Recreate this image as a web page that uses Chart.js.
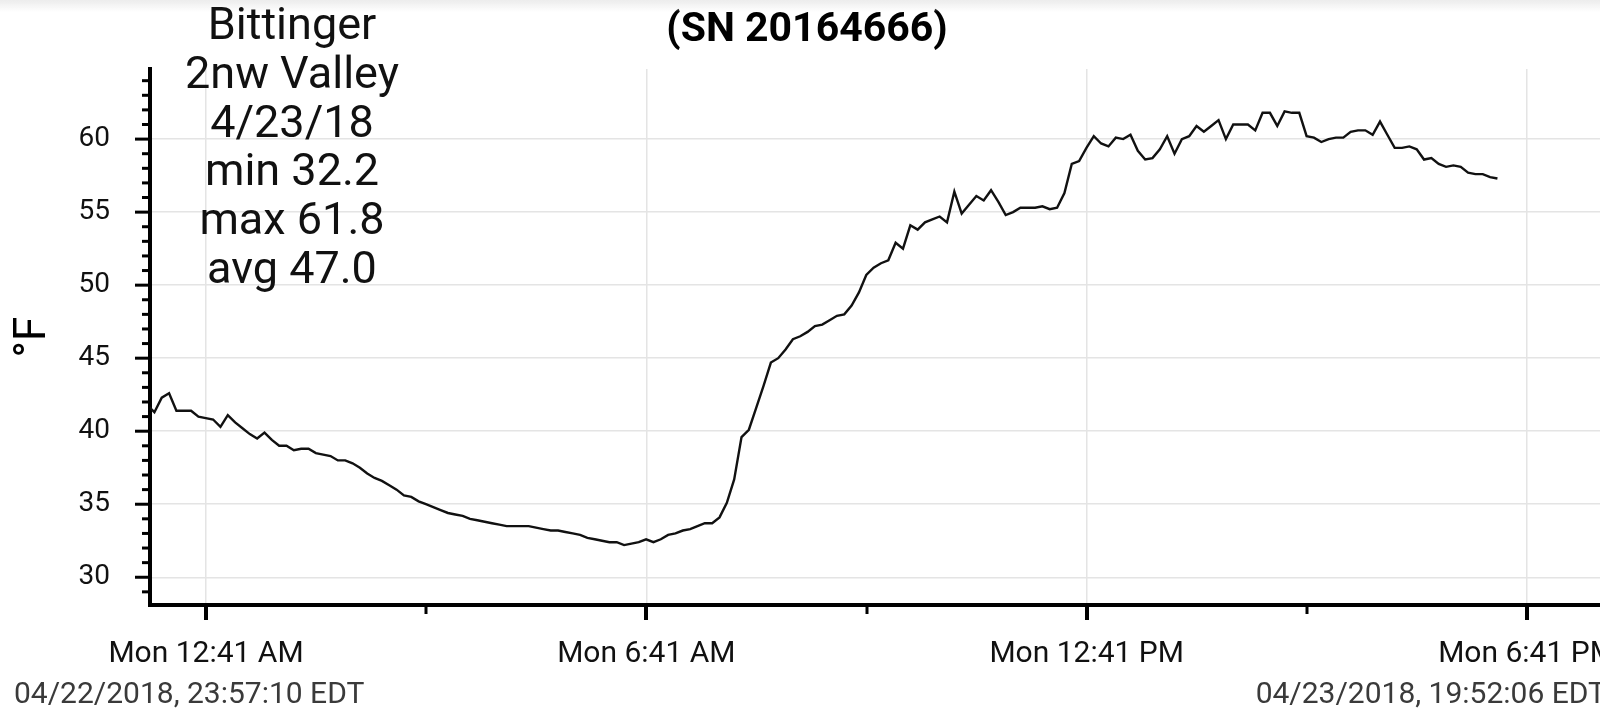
<!DOCTYPE html>
<html>
<head>
<meta charset="utf-8">
<script src="https://cdn.jsdelivr.net/npm/chart.js@4.4.1/dist/chart.umd.min.js"></script>
<style>
  html, body { margin:0; padding:0; background:#fff; overflow:hidden; }
  #wrap { position:relative; width:1600px; height:728px; overflow:hidden; background:#fff; font-family:Roboto, sans-serif; }
  #box { position:absolute; left:0; top:0; width:1614px; height:728px; }
  #topbar { position:absolute; left:0; top:0; width:1600px; height:12px; background:linear-gradient(#ececec, rgba(255,255,255,0)); pointer-events:none; }
  #note { position:absolute; left:142px; top:0px; width:300px; text-align:center; font-size:45px; line-height:48.8px; color:#111; }
  .stamp { position:absolute; top:678px; font-size:30px; line-height:30px; color:#3a3a3a; white-space:nowrap; }
  #d1 { left:14px; }
  #d2 { right:-6px; }
</style>
</head>
<body>
<div id="wrap">
  <div id="box"><canvas id="c"></canvas></div>
  <div id="topbar"></div>
  <div id="note">Bittinger<br>2nw Valley<br>4/23/18<br>min 32.2<br>max 61.8<br>avg 47.0</div>
  <div class="stamp" id="d1">04/22/2018, 23:57:10 EDT</div>
  <div class="stamp" id="d2">04/23/2018, 19:52:06 EDT</div>
</div>
<script>
// Readings every 6 minutes (minutes relative to midnight 04/23/2018)
const firstMinute = -7.2;
const stepMinutes = 6;
const temps = [
  41.8, 41.3, 42.3, 42.6, 41.4, 41.4, 41.4, 41.0, 40.9, 40.8,
  40.3, 41.1, 40.6, 40.2, 39.8, 39.5, 39.9, 39.4, 39.0, 39.0,
  38.7, 38.8, 38.8, 38.5, 38.4, 38.3, 38.0, 38.0, 37.8, 37.5,
  37.1, 36.8, 36.6, 36.3, 36.0, 35.6, 35.5, 35.2, 35.0, 34.8,
  34.6, 34.4, 34.3, 34.2, 34.0, 33.9, 33.8, 33.7, 33.6, 33.5,
  33.5, 33.5, 33.5, 33.4, 33.3, 33.2, 33.2, 33.1, 33.0, 32.9,
  32.7, 32.6, 32.5, 32.4, 32.4, 32.2, 32.3, 32.4, 32.6, 32.4,
  32.6, 32.9, 33.0, 33.2, 33.3, 33.5, 33.7, 33.7, 34.1, 35.1,
  36.7, 39.6, 40.1, 41.6, 43.1, 44.7, 45.0, 45.6, 46.3, 46.5,
  46.8, 47.2, 47.3, 47.6, 47.9, 48.0, 48.6, 49.5, 50.7, 51.2,
  51.5, 51.7, 52.9, 52.5, 54.1, 53.8, 54.3, 54.5, 54.7, 54.3,
  56.4, 54.9, 55.5, 56.1, 55.8, 56.5, 55.7, 54.8, 55.0, 55.3,
  55.3, 55.3, 55.4, 55.2, 55.3, 56.3, 58.3, 58.5, 59.4, 60.2,
  59.7, 59.5, 60.1, 60.0, 60.3, 59.2, 58.6, 58.7, 59.3, 60.2,
  59.0, 60.0, 60.2, 60.9, 60.5, 60.9, 61.3, 60.0, 61.0, 61.0,
  61.0, 60.6, 61.8, 61.8, 60.9, 61.9, 61.8, 61.8, 60.2, 60.1,
  59.8, 60.0, 60.1, 60.1, 60.5, 60.6, 60.6, 60.3, 61.2, 60.3,
  59.4, 59.4, 59.5, 59.3, 58.6, 58.7, 58.3, 58.1, 58.2, 58.1,
  57.7, 57.6, 57.6, 57.4, 57.3
];
const xMin = -4.8;      // left edge of time axis (minutes)
const xMax = 1192.1;    // 19:52:06
const xTickMinutes = [41, 221, 401, 581, 761, 941, 1121];
const xTickLabels = ['Mon 12:41 AM', '', 'Mon 6:41 AM', '', 'Mon 12:41 PM', '', 'Mon 6:41 PM'];
const yMin = 28.1, yMax = 64.8;
const yTickValues = [29,30,31,32,33,34,35,36,37,38,39,40,41,42,43,44,45,46,47,48,49,50,51,52,53,54,55,56,57,58,59,60,61,62,63,64];
const yLabelValues = [30, 35, 40, 45, 50, 55, 60];

const points = temps.map((v, i) => ({ x: firstMinute + stepMinutes * i, y: v }));
const isXMajor = v => xTickMinutes.includes(v) && xTickLabels[xTickMinutes.indexOf(v)] !== '';
const isYMajor = v => yLabelValues.includes(v);

const tickMarks = {
  id: 'tickMarks',
  afterDraw(chart) {
    const { ctx } = chart;
    const x = chart.scales.x, y = chart.scales.y;
    ctx.save();
    ctx.strokeStyle = '#000';
    x.ticks.forEach(t => {
      const px = Math.round(x.getPixelForValue(t.value));
      const major = isXMajor(t.value);
      ctx.lineWidth = major ? 4 : 3;
      ctx.beginPath();
      ctx.moveTo(px, x.top);
      ctx.lineTo(px, x.top + (major ? 15 : 9));
      ctx.stroke();
    });
    y.ticks.forEach(t => {
      const py = y.getPixelForValue(t.value);
      const major = isYMajor(t.value);
      ctx.lineWidth = 3;
      ctx.beginPath();
      ctx.moveTo(y.right, py);
      ctx.lineTo(y.right - (major ? 15 : 8), py);
      ctx.stroke();
    });
    ctx.restore();
  }
};

Chart.defaults.font.family = 'Roboto';
new Chart(document.getElementById('c'), {
  type: 'line',
  data: {
    datasets: [{
      data: points,
      borderColor: '#111',
      borderWidth: 2.4,
      pointRadius: 0,
      tension: 0,
      fill: false
    }]
  },
  options: {
    responsive: true,
    maintainAspectRatio: false,
    animation: false,
    events: [],
    layout: { padding: 0 },
    plugins: {
      legend: { display: false },
      tooltip: { enabled: false },
      title: {
        display: true,
        text: '(SN 20164666)',
        color: '#000',
        font: { size: 41, weight: 'bold', family: 'Roboto' },
        padding: { top: 6, bottom: 13.8 }
      }
    },
    scales: {
      x: {
        type: 'linear',
        min: xMin,
        max: xMax,
        afterBuildTicks: s => { s.ticks = xTickMinutes.map(v => ({ value: v })); },
        afterFit: s => { s.height = 123; s.paddingLeft = 0; s.paddingRight = 0; },
        ticks: {
          autoSkip: false,
          maxRotation: 0,
          padding: 31.5,
          color: '#111',
          font: { size: 30 },
          callback: v => xTickLabels[xTickMinutes.indexOf(v)] ?? ''
        },
        grid: {
          drawTicks: false,
          lineWidth: 1.5,
          color: c => (c.tick && isXMajor(c.tick.value)) ? '#e4e4e4' : 'rgba(0,0,0,0)'
        },
        border: { display: true, color: '#000', width: 4 }
      },
      y: {
        type: 'linear',
        min: yMin,
        max: yMax,
        afterBuildTicks: s => { s.ticks = yTickValues.map(v => ({ value: v })); },
        afterFit: s => { s.width = 150; s.paddingTop = 0; s.paddingBottom = 0; },
        ticks: {
          autoSkip: false,
          padding: 40,
          color: '#111',
          font: { size: 28 },
          callback: v => isYMajor(v) ? String(v) : ''
        },
        grid: {
          drawTicks: false,
          lineWidth: 1.5,
          color: c => (c.tick && isYMajor(c.tick.value)) ? '#e4e4e4' : 'rgba(0,0,0,0)'
        },
        border: { display: true, color: '#000', width: 4 },
        title: {
          display: true,
          text: '°F',
          color: '#000',
          font: { size: 44 },
          padding: { top: 8, bottom: 0 }
        }
      }
    }
  },
  plugins: [tickMarks]
});
</script>
</body>
</html>
